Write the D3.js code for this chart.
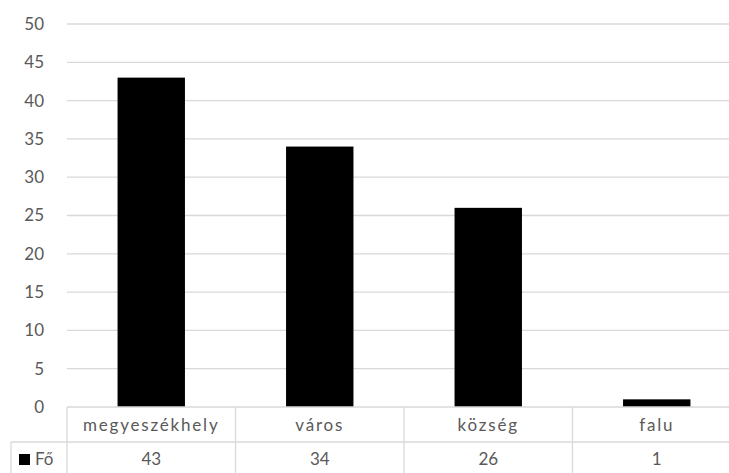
<!DOCTYPE html>
<html lang="hu">
<head>
<meta charset="utf-8">
<script src="https://d3js.org/d3.v7.min.js"></script>
<style>
  body { margin: 0; background: #fff; }
  svg text { font-family: Lato, "Open Sans", sans-serif; fill: #595959; }
  .grid line { stroke: #d9d9d9; stroke-width: 1.3; }
  .tbl line { stroke: #d9d9d9; stroke-width: 1.3; }
</style>
</head>
<body>
<div id="chart"></div>
<script>
var categories = ["megyeszékhely", "város", "község", "falu"];
var values = [43, 34, 26, 1];
var seriesName = "Fő";
var yTicks = [0, 5, 10, 15, 20, 25, 30, 35, 40, 45, 50];

var w = 729, h = 473;
var plotLeft = 67, plotRight = 741, plotTop = 24, plotBottom = 407;
var rowH = 35;

var svg = d3.select("#chart").append("svg").attr("width", w).attr("height", h);

var x = d3.scaleBand().domain(categories).range([plotLeft, plotRight]).paddingInner(0).paddingOuter(0);
var y = d3.scaleLinear().domain([0, 50]).range([plotBottom, plotTop]);

// gridlines
svg.append("g").attr("class", "grid").selectAll("line").data(yTicks.slice(1)).enter()
  .append("line").attr("x1", plotLeft).attr("x2", plotRight)
  .attr("y1", function(d) { return y(d); }).attr("y2", function(d) { return y(d); });

// y labels
svg.append("g").selectAll("text").data(yTicks).enter().append("text")
  .attr("x", 44).attr("y", function(d) { return y(d); }).attr("dy", "0.35em")
  .attr("text-anchor", "end").style("font-size", "17px").text(function(d) { return d; });

// bars
var bw = x.bandwidth() * 0.4;
svg.append("g").selectAll("rect").data(values).enter().append("rect")
  .attr("x", function(d, i) { return x(categories[i]) + (x.bandwidth() - bw) / 2; })
  .attr("y", function(d) { return y(d); })
  .attr("width", bw).attr("height", function(d) { return y(0) - y(d); })
  .attr("fill", "#000");

// data table
var tbl = svg.append("g").attr("class", "tbl");
tbl.append("line").attr("x1", plotLeft).attr("x2", plotRight).attr("y1", plotBottom).attr("y2", plotBottom);
tbl.append("line").attr("x1", 11).attr("x2", plotRight).attr("y1", plotBottom + rowH).attr("y2", plotBottom + rowH);
tbl.append("line").attr("x1", 11).attr("x2", 11).attr("y1", plotBottom + rowH).attr("y2", h);
tbl.selectAll("line.v").data(categories).enter().append("line").attr("class", "v")
  .attr("x1", function(d) { return x(d); }).attr("x2", function(d) { return x(d); })
  .attr("y1", plotBottom).attr("y2", h);

svg.append("g").selectAll("text").data(categories).enter().append("text")
  .attr("x", function(d) { return x(d) + x.bandwidth() / 2; })
  .attr("y", plotBottom + rowH / 2 + 1).attr("dy", "0.35em").attr("text-anchor", "middle")
  .style("font-size", "17px").style("letter-spacing", "1.8px").text(function(d) { return d; });

svg.append("g").selectAll("text").data(values).enter().append("text")
  .attr("x", function(d, i) { return x(categories[i]) + x.bandwidth() / 2; })
  .attr("y", plotBottom + rowH + 17).attr("dy", "0.35em").attr("text-anchor", "middle")
  .style("font-size", "17px").text(function(d) { return d; });

// legend key in table
svg.append("rect").attr("x", 19).attr("y", plotBottom + rowH + 12).attr("width", 11).attr("height", 11).attr("fill", "#000");
svg.append("text").attr("x", 35).attr("y", plotBottom + rowH + 17).attr("dy", "0.35em")
  .style("font-size", "17px").text(seriesName);
</script>
</body>
</html>
